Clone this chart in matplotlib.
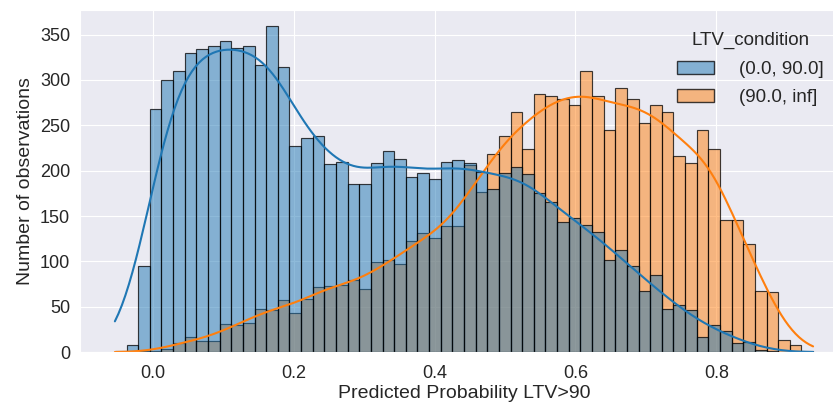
import numpy as np
import pandas as pd
import matplotlib
matplotlib.use('Agg')
import matplotlib.pyplot as plt
import seaborn as sns

# histogram bins (60 bins)
bin_start = -0.0543
bin_end = 0.9375
n_bins = 60

ltv_low = [1, 8, 95, 268, 300, 310, 330, 334, 337, 343,
           335, 337, 316, 359, 314, 227, 236, 238, 207, 210,
           185, 185, 209, 222, 213, 193, 198, 191, 210, 212,
           208, 199, 180, 198, 204, 196, 175, 165, 144, 148,
           140, 133, 102, 113, 95, 68, 85, 48, 52, 46,
           17, 30, 23, 10, 11, 2, 1, 0, 0, 0]
ltv_high = [0, 0, 1, 1, 4, 10, 17, 12, 12, 31,
            30, 32, 48, 46, 57, 43, 59, 72, 73, 74,
            80, 70, 99, 102, 97, 122, 131, 126, 139, 139,
            206, 176, 218, 238, 265, 224, 285, 282, 279, 272,
            310, 282, 245, 291, 279, 253, 272, 265, 216, 209,
            245, 224, 146, 146, 119, 68, 66, 14, 8, 1]
labels = ['(0.0, 90.0]', '(90.0, inf]']

edges = np.linspace(bin_start, bin_end, n_bins + 1)
centers = (edges[:-1] + edges[1:]) / 2

df = pd.DataFrame({
    'prob': np.concatenate([centers, centers]),
    'count': ltv_low + ltv_high,
    'LTV_condition': [labels[0]] * n_bins + [labels[1]] * n_bins,
})

sns.set_style('darkgrid')
plt.rcParams['font.family'] = ['Liberation Sans', 'DejaVu Sans']
plt.rcParams['legend.frameon'] = False

fig = plt.figure(figsize=(8.33, 4.03), dpi=100)
ax = fig.add_axes([0.096, 0.126, 0.922, 0.849])

sns.histplot(data=df, x='prob', weights='count', hue='LTV_condition',
             hue_order=labels, bins=n_bins, binrange=(bin_start, bin_end),
             kde=True, edgecolor=(0, 0, 0, 0.75),
             kde_kws={'bw_method': 0.17, 'cut': 3, 'clip': (bin_start, bin_end)},
             ax=ax)

ax.set_xlabel('Predicted Probability LTV>90', fontsize=14, labelpad=2)
ax.set_ylabel('Number of observations', fontsize=14)
ax.set_xticks([0.0, 0.2, 0.4, 0.6, 0.8])
ax.set_yticks(range(0, 351, 50))
ax.tick_params(labelsize=13)
ax.tick_params(axis='x', pad=6)
sns.move_legend(ax, 'upper right', bbox_to_anchor=(0.99, 0.985),
                fontsize=13.5, title_fontsize=13.5, handletextpad=1.3,
                labelspacing=0.6)

fig.savefig('out.png', dpi=100)
